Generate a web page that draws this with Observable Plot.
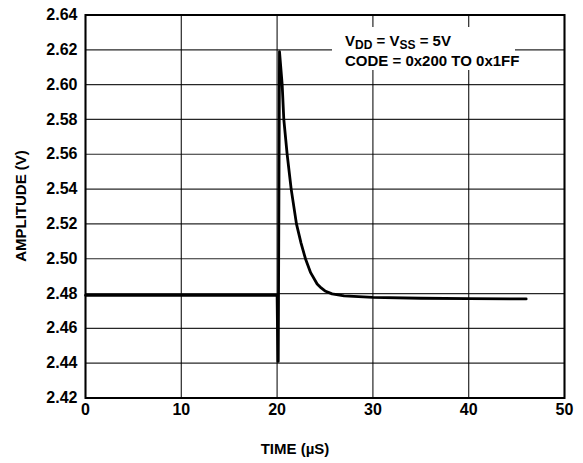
<!DOCTYPE html>
<html><head><meta charset="utf-8">
<script src="https://cdn.jsdelivr.net/npm/d3@7"></script>
<script src="https://cdn.jsdelivr.net/npm/@observablehq/plot@0.6"></script>
<style>
body{margin:0;background:#fff}
svg{font-family:"Liberation Sans",Arial,Helvetica,sans-serif;}
</style>
</head><body><div id="chart"></div>
<script>
// Settling waveform
const time = [0, 20.0, 20.08, 20.12, 20.25, 20.53, 20.70, 21.05, 21.47, 22.02, 22.5, 22.96, 23.5, 24.18, 24.6, 25.0, 25.74, 27.0, 30.0, 35.0, 40.0, 46.0];
const amplitude = [2.479, 2.479, 2.441, 2.441, 2.619, 2.600, 2.580, 2.560, 2.540, 2.520, 2.509, 2.500, 2.492, 2.4855, 2.4832, 2.4815, 2.4798, 2.4787, 2.4778, 2.4773, 2.4771, 2.4769];
const xTicks = [0, 10, 20, 30, 40, 50];
const yTicks = [2.42, 2.44, 2.46, 2.48, 2.50, 2.52, 2.54, 2.56, 2.58, 2.60, 2.62, 2.64];
const xLabel = "TIME (µS)";
const yLabel = "AMPLITUDE (V)";
const legendLine1 = [["V", ""], ["DD", "sub"], [" = V", ""], ["SS", "sub"], [" = 5V", ""]];
const legendLine2 = "CODE = 0x200 TO 0x1FF";

const data = time.map((t, i) => ({t, v: amplitude[i]}));
const fmt = d3.format(".2f");

const plot = Plot.plot({
  width: 583, height: 463,
  marginLeft: 85, marginRight: 19, marginTop: 14.5, marginBottom: 65.5,
  style: {fontFamily: '"Liberation Sans", Arial, sans-serif', fontSize: "16px", fontWeight: "bold", color: "#000", background: "#fff"},
  x: {domain: [0, 50], label: null},
  y: {domain: [2.42, 2.64], label: null},
  marks: [
    Plot.gridX(xTicks, {stroke: "#000", strokeOpacity: 0.85, strokeWidth: 1.2}),
    Plot.gridY(yTicks, {stroke: "#000", strokeOpacity: 0.85, strokeWidth: 1.2}),
    Plot.axisX(xTicks, {tickSize: 0, tickPadding: 6, fontWeight: "bold", label: null}),
    Plot.axisY(yTicks, {tickSize: 0, tickPadding: 8, tickFormat: fmt, fontWeight: "bold", label: null}),
    Plot.line(data, {x: "t", y: "v", stroke: "#000", strokeWidth: 2.8, strokeLinejoin: "round"}),
    Plot.frame({stroke: "#000", strokeWidth: 2})
  ]
});
document.getElementById("chart").appendChild(plot);

const svg = d3.select(plot);
// legend box
const g = svg.append("g").attr("text-anchor", "start");
g.append("rect").attr("x", 332).attr("y", 27).attr("width", 183).attr("height", 43).attr("fill", "#fff");
const t1 = g.append("text").attr("x", 345).attr("y", 46).attr("font-size", 15).attr("font-weight", "bold").attr("fill", "#000");
legendLine1.forEach(([s, k], i) => {
  const ts = t1.append("tspan").text(s);
  if (k === "sub") ts.attr("font-size", 12).attr("dy", 3);
  else if (i > 0) ts.attr("dy", -3);
});
g.append("text").attr("x", 345).attr("y", 66).attr("font-size", 15).attr("font-weight", "bold").attr("fill", "#000").text(legendLine2);

// axis titles
svg.append("text").attr("x", 295).attr("y", 454).attr("text-anchor", "middle")
  .attr("font-size", 15).attr("font-weight", "bold").attr("fill", "#000").text(xLabel);
svg.append("text").attr("transform", "translate(26,206) rotate(-90)").attr("text-anchor", "middle")
  .attr("font-size", 15).attr("font-weight", "bold").attr("fill", "#000").text(yLabel);
</script>
</body></html>
